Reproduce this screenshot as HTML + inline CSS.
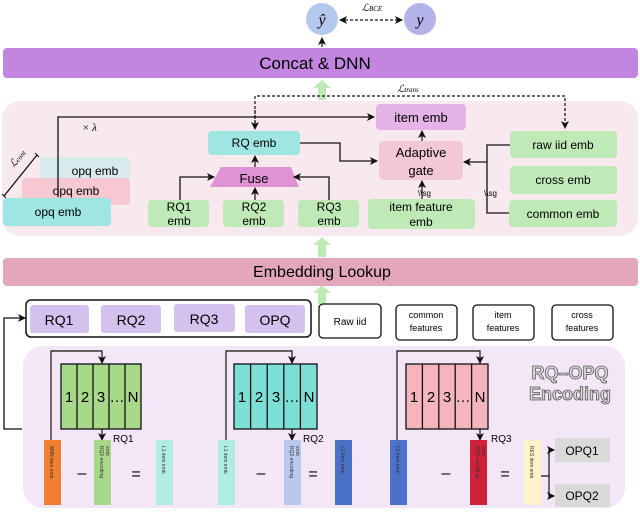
<!DOCTYPE html>
<html><head><meta charset="utf-8"><style>
body{margin:0;background:#fff}
svg{display:block;font-family:"Liberation Sans",sans-serif}
</style></head><body>
<svg width="640" height="513" viewBox="0 0 640 513" xmlns="http://www.w3.org/2000/svg">
<defs>
<marker id="a" markerWidth="8" markerHeight="8" refX="7" refY="4" orient="auto" markerUnits="userSpaceOnUse"><path d="M0,0 L8,4 L0,8 L2,4 z" fill="#111"/></marker>
<marker id="as" markerWidth="8" markerHeight="8" refX="1" refY="4" orient="auto" markerUnits="userSpaceOnUse"><path d="M8,0 L0,4 L8,8 L6,4 z" fill="#111"/></marker>
</defs>
<!-- top circles -->
<circle cx="322" cy="19" r="16" fill="#b4c8ee"/>
<circle cx="420" cy="19" r="16" fill="#b3b3ea"/>
<text x="322" y="25" font-size="16" font-style="italic" text-anchor="middle" font-family="Liberation Serif,serif">ŷ</text>
<text x="420" y="25" font-size="16" font-style="italic" text-anchor="middle" font-family="Liberation Serif,serif">y</text>
<line x1="340" y1="20" x2="402" y2="20" stroke="#111" stroke-dasharray="3,2" stroke-width="1.2" marker-end="url(#a)" marker-start="url(#as)"/>
<text x="372" y="11" font-size="10" font-style="italic" text-anchor="middle" font-family="Liberation Serif,serif">ℒ<tspan font-size="7">BCE</tspan></text>
<line x1="322" y1="47" x2="322" y2="38" stroke="#111" stroke-width="1.2" marker-end="url(#a)"/>
<!-- Concat -->
<rect x="3" y="48" width="635" height="30" rx="4" fill="#c286e0"/>
<text x="315" y="69" font-size="17" text-anchor="middle">Concat &amp; DNN</text>
<!-- green arrows -->
<g fill="#bfeab8"><path d="M318,100 V88 H313 L322,80 L331,88 H326 V100z"/><path d="M318,257 V245 H313 L322,237 L331,245 H326 V257z"/><path d="M318,304 V293 H313 L322,285 L331,293 H326 V304z"/></g>
<!-- pink panel -->
<rect x="2" y="101" width="636" height="135" rx="18" fill="#f8e9ef"/>
<!-- dashed L_trans -->
<path d="M255,124 V96 H565 V128" fill="none" stroke="#111" stroke-dasharray="3,2" stroke-width="1.2" marker-end="url(#a)"/>
<line x1="255" y1="110" x2="255" y2="129" stroke="#111" stroke-dasharray="3,2" stroke-width="1.2" marker-end="url(#a)"/>
<text x="408" y="92" font-size="10" font-style="italic" text-anchor="middle" font-family="Liberation Serif,serif">ℒ<tspan font-size="7">trans</tspan></text>
<!-- opq stack -->
<rect x="40" y="157" width="90" height="27" rx="4" fill="#d9eaec"/>
<text x="95" y="175" font-size="12" text-anchor="middle">opq emb</text>
<rect x="22" y="178" width="108" height="27" rx="4" fill="#f6c8d1"/>
<text x="76" y="195" font-size="12" text-anchor="middle">opq emb</text>
<rect x="3" y="198" width="108" height="28" rx="4" fill="#9fe6e3"/>
<text x="58" y="216" font-size="12" text-anchor="middle">opq emb</text>
<line x1="4" y1="196" x2="37" y2="155" stroke="#111" stroke-width="1.3"/>
<line x1="2" y1="194" x2="6" y2="198" stroke="#111"/><line x1="35" y1="153" x2="39" y2="157" stroke="#111"/>
<text x="14" y="168" font-size="10" font-style="italic" font-family="Liberation Serif,serif" transform="rotate(-51 14 168)">ℒ<tspan font-size="7">cont</tspan></text>
<!-- lambda line -->
<path d="M58,197 V117 H374" fill="none" stroke="#111" stroke-width="1.3" marker-end="url(#a)"/>
<text x="82" y="131" font-size="11" font-style="italic" font-family="Liberation Serif,serif">× λ</text>
<!-- item emb -->
<rect x="376" y="104" width="90" height="26" rx="4" fill="#e5b3e8"/>
<text x="421" y="122" font-size="13" text-anchor="middle">item emb</text>
<!-- RQ emb -->
<rect x="208" y="131" width="92" height="24" rx="4" fill="#9fe6e3"/>
<text x="254" y="147" font-size="12" text-anchor="middle">RQ emb</text>
<path d="M300,143 H340 V161 H377" fill="none" stroke="#111" stroke-width="1.3" marker-end="url(#a)"/>
<!-- gate -->
<rect x="379" y="141" width="84" height="39" rx="5" fill="#f2c8d4"/>
<text x="421" y="157" font-size="13" text-anchor="middle">Adaptive</text>
<text x="421" y="175" font-size="13" text-anchor="middle">gate</text>
<line x1="422" y1="141" x2="422" y2="131" stroke="#111" stroke-width="1.2" marker-end="url(#a)"/>
<!-- Fuse -->
<path d="M221,167 H291 L299,187 H210 Z" fill="#df93d5"/>
<text x="254" y="183" font-size="13" text-anchor="middle">Fuse</text>
<line x1="255" y1="167" x2="255" y2="156" stroke="#111" stroke-width="1.2" marker-end="url(#a)"/>
<!-- RQ embs -->
<g fill="#bfeab8"><rect x="148" y="200" width="61" height="27" rx="4"/><rect x="223" y="200" width="61" height="27" rx="4"/><rect x="298" y="200" width="61" height="27" rx="4"/><rect x="368" y="199" width="107" height="30" rx="4"/><rect x="510" y="131" width="107" height="27" rx="4"/><rect x="510" y="166" width="107" height="28" rx="4"/><rect x="509" y="200" width="108" height="27" rx="4"/></g>
<g font-size="12" text-anchor="middle">
<text x="179" y="211">RQ1</text><text x="179" y="225">emb</text>
<text x="254" y="211">RQ2</text><text x="254" y="225">emb</text>
<text x="329" y="211">RQ3</text><text x="329" y="225">emb</text>
<text x="421" y="211">item feature</text><text x="421" y="226">emb</text>
<text x="563" y="149">raw iid emb</text>
<text x="563" y="184">cross emb</text>
<text x="563" y="218">common emb</text>
</g>
<path d="M180,200 V177 H214" fill="none" stroke="#111" stroke-width="1.3" marker-end="url(#a)"/>
<line x1="255" y1="200" x2="255" y2="188" stroke="#111" stroke-width="1.2" marker-end="url(#a)"/>
<path d="M329,200 V177 H294" fill="none" stroke="#111" stroke-width="1.3" marker-end="url(#a)"/>
<line x1="422" y1="199" x2="422" y2="181" stroke="#111" stroke-width="1.2" marker-end="url(#a)"/>
<text x="418" y="196" font-size="8">\\sg</text>
<path d="M510,145 H487 V213 H509" fill="none" stroke="#111" stroke-width="1.3"/>
<line x1="487" y1="162" x2="464" y2="162" stroke="#111" stroke-width="1.3" marker-end="url(#a)"/>
<text x="484" y="196" font-size="8">\\sg</text>
<!-- Embedding lookup -->
<rect x="3" y="258" width="635" height="28" rx="4" fill="#e4a6bb"/>
<text x="322" y="277" font-size="16" text-anchor="middle">Embedding Lookup</text>
<!-- RQ group -->
<rect x="26" y="300" width="285" height="37" rx="5" fill="#fff" stroke="#111" stroke-width="1.5"/>
<g fill="#d4c1ee"><rect x="30" y="305" width="59" height="28" rx="3"/><rect x="101" y="305" width="60" height="28" rx="3"/><rect x="174" y="304" width="61" height="28" rx="3"/><rect x="245" y="305" width="60" height="28" rx="3"/></g>
<g font-size="14" text-anchor="middle"><text x="59" y="325">RQ1</text><text x="131" y="325">RQ2</text><text x="204" y="324">RQ3</text><text x="275" y="325">OPQ</text></g>
<g fill="#fff" stroke="#111" stroke-width="1.3"><rect x="319" y="304" width="62" height="34" rx="4"/><rect x="396" y="305" width="61" height="35" rx="4"/><rect x="473" y="305" width="61" height="35" rx="4"/><rect x="552" y="305" width="61" height="35" rx="4"/></g>
<g font-size="9" text-anchor="middle"><text x="350" y="325" font-size="10">Raw iid</text>
<text x="426" y="318">common</text><text x="426" y="331">features</text>
<text x="503" y="318">item</text><text x="503" y="331">features</text>
<text x="582" y="318">cross</text><text x="582" y="331">features</text></g>
<!-- RQ-OPQ panel -->
<rect x="23" y="346" width="602" height="162" rx="20" fill="#f3e6f6"/>
<path d="M22,429 H4 V318 H25" fill="none" stroke="#111" stroke-width="1.3" marker-end="url(#a)"/>
<text x="570" y="379" font-size="18" font-weight="bold" text-anchor="middle" fill="#ddd" stroke="#555" stroke-width="0.8">RQ–OPQ</text>
<text x="570" y="400" font-size="18" font-weight="bold" text-anchor="middle" fill="#ddd" stroke="#555" stroke-width="0.8">Encoding</text>
<!-- codebooks -->
<g stroke="#111" stroke-width="1.3">
<rect x="61" y="364" width="80" height="65" fill="#a8d88a"/><line x1="77" y1="364" x2="77" y2="429"/><line x1="93" y1="364" x2="93" y2="429"/><line x1="109" y1="364" x2="109" y2="429"/><line x1="125" y1="364" x2="125" y2="429"/>
<rect x="234" y="364" width="83" height="65" fill="#7de0d6"/><line x1="250.6" y1="364" x2="250.6" y2="429"/><line x1="267.2" y1="364" x2="267.2" y2="429"/><line x1="283.8" y1="364" x2="283.8" y2="429"/><line x1="300.4" y1="364" x2="300.4" y2="429"/>
<rect x="406" y="364" width="82" height="65" fill="#f5b5bd"/><line x1="422.4" y1="364" x2="422.4" y2="429"/><line x1="438.8" y1="364" x2="438.8" y2="429"/><line x1="455.2" y1="364" x2="455.2" y2="429"/><line x1="471.6" y1="364" x2="471.6" y2="429"/>
</g>
<g font-size="15" text-anchor="middle">
<text x="69" y="402">1</text><text x="85" y="402">2</text><text x="101" y="402">3</text><text x="117" y="402">…</text><text x="133" y="402">N</text>
<text x="242" y="402">1</text><text x="259" y="402">2</text><text x="276" y="402">3</text><text x="292" y="402">…</text><text x="309" y="402">N</text>
<text x="414" y="402">1</text><text x="431" y="402">2</text><text x="447" y="402">3</text><text x="463" y="402">…</text><text x="480" y="402">N</text>
</g>
<g fill="none" stroke="#111" stroke-width="1.2">
<path d="M51,440 V351 H102 V363" marker-end="url(#a)"/><path d="M102,429 V440" marker-end="url(#a)"/>
<path d="M226,440 V351 H292 V363" marker-end="url(#a)"/><path d="M292,429 V440" marker-end="url(#a)"/>
<path d="M397,440 V351 H480 V363" marker-end="url(#a)"/><path d="M480,429 V440" marker-end="url(#a)"/>
<path d="M541,476 H549 V450 H554" marker-end="url(#a)"/><path d="M549,476 V496 H554" marker-end="url(#a)"/>
</g>
<g font-size="10"><text x="113" y="442">RQ1</text><text x="303" y="442">RQ2</text><text x="491" y="442">RQ3</text></g>
<!-- bars -->
<rect x="44" y="440" width="17" height="65" fill="#f07f30"/>
<rect x="94" y="440" width="17" height="65" fill="#a7d88a"/>
<rect x="156" y="440" width="17" height="65" fill="#b0ece4"/>
<rect x="218" y="440" width="17" height="65" fill="#b0ece4"/>
<rect x="284" y="440" width="17" height="65" fill="#b9c9ec"/>
<rect x="335" y="440" width="17" height="65" fill="#4a72c8"/>
<rect x="390" y="440" width="17" height="65" fill="#4a72c8"/>
<rect x="470" y="440" width="17" height="65" fill="#d0203a"/>
<rect x="524" y="440" width="17" height="65" fill="#fdf2c8"/>
<g font-size="5" fill="#333">
<text transform="translate(50,446) rotate(90)">ANN item emb</text>
<text transform="translate(100,446) rotate(90)">RQ1 encoding</text><text transform="translate(106,446) rotate(90)">emb</text>
<text transform="translate(162,446) rotate(90)">L1 item emb</text>
<text transform="translate(224,446) rotate(90)">L1 item emb</text>
<text transform="translate(290,446) rotate(90)">RQ2 encoding</text><text transform="translate(296,446) rotate(90)">emb</text>
<text transform="translate(341,446) rotate(90)">L2 item emb</text>
<text transform="translate(396,446) rotate(90)">L2 item emb</text>
<text transform="translate(476,446) rotate(90)">RQ3 encoding</text><text transform="translate(482,446) rotate(90)">emb</text>
<text transform="translate(530,446) rotate(90)">RES item emb</text>
</g>
<g font-size="16" text-anchor="middle"><text x="82" y="478">–</text><text x="136" y="479">=</text><text x="261" y="478">–</text><text x="313" y="479">=</text><text x="446" y="478">–</text><text x="505" y="479">=</text></g>
<rect x="555" y="438" width="55" height="24" fill="#d9d9d9"/><rect x="555" y="484" width="55" height="23" fill="#d9d9d9"/>
<text x="582" y="455" font-size="12" text-anchor="middle">OPQ1</text><text x="582" y="500" font-size="12" text-anchor="middle">OPQ2</text>
</svg>
</body></html>
